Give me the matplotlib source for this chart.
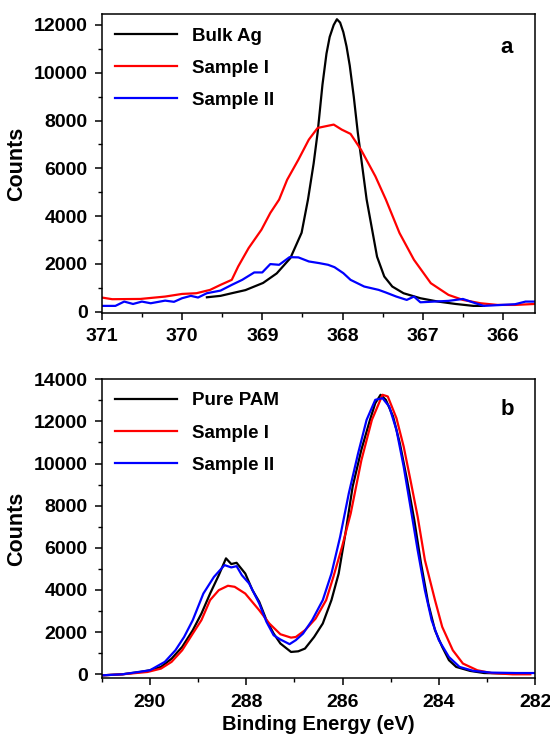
import matplotlib.pyplot as plt
from matplotlib.ticker import MultipleLocator

plt.rcParams['font.family'] = ['Liberation Sans', 'DejaVu Sans']
plt.rcParams['font.weight'] = 'bold'

# ---- panel a: Ag 3d ----
bulk_x = [369.69, 369.52, 369.38, 369.21, 368.99, 368.82, 368.65, 368.51, 368.43,
          368.36, 368.31, 368.25, 368.20, 368.16, 368.11, 368.07, 368.03, 367.99,
          367.95, 367.91, 367.86, 367.81, 367.70, 367.57,
          367.48, 367.38, 367.24, 367.03, 366.81, 366.59, 366.37, 366.24]
bulk_y = [600, 660, 770, 900, 1200, 1600, 2240, 3300, 4700,
          6200, 7500, 9500, 10800, 11500, 12000, 12240, 12100, 11700,
          11100, 10300, 9000, 7500, 4700, 2300,
          1470, 1050, 770, 560, 420, 320, 240, 240]

s1a_x = [371.0, 370.87, 370.52, 370.21, 370.0, 369.82, 369.65, 369.52, 369.38,
         369.30, 369.17, 369.01, 368.90, 368.79, 368.69, 368.55, 368.42, 368.31,
         368.21, 368.11, 368.01, 367.90, 367.77, 367.59, 367.46, 367.29, 367.11,
         366.90, 366.68, 366.50, 366.28, 366.07, 365.85, 365.61]
s1a_y = [590, 520, 530, 630, 740, 770, 910, 1120, 1330,
         1890, 2660, 3430, 4130, 4690, 5520, 6360, 7200, 7690,
         7760, 7830, 7620, 7440, 6780, 5660, 4690, 3290, 2170,
         1190, 700, 490, 350, 280, 280, 320]

s2a_x = [371.0, 370.83, 370.72, 370.61, 370.50, 370.39, 370.21, 370.10, 370.0,
         369.89, 369.80, 369.69, 369.52, 369.38, 369.25, 369.10, 369.0, 368.90,
         368.79, 368.66, 368.55, 368.42, 368.29, 368.18, 368.10, 367.99, 367.90,
         367.73, 367.55, 367.46, 367.33, 367.20, 367.11, 367.03, 366.86, 366.68,
         366.50, 366.37, 366.24, 366.02, 365.85, 365.72, 365.61]
s2a_y = [240, 240, 420, 320, 420, 350, 460, 410, 560,
         660, 590, 770, 880, 1120, 1330, 1640, 1640, 1990,
         1960, 2280, 2270, 2100, 2030, 1960, 1860, 1610, 1330,
         1050, 910, 800, 630, 490, 630, 390, 420, 450,
         530, 380, 240, 280, 310, 420, 420]

# ---- panel b: C 1s ----
pam_x = [291.0, 290.57, 290.2, 290.0, 289.77, 289.55, 289.33, 289.11, 288.93, 288.75,
         288.57, 288.42, 288.31, 288.20, 288.02, 287.87, 287.73, 287.58, 287.43,
         287.29, 287.07, 286.92, 286.78, 286.59, 286.41, 286.23, 286.08, 285.94,
         285.79, 285.61, 285.43, 285.32, 285.21, 285.10, 284.95, 284.81, 284.66,
         284.51, 284.37, 284.22, 284.08, 283.93, 283.79, 283.64, 283.35, 283.06,
         282.47]
pam_y = [-50, 0, 110, 190, 350, 740, 1300, 2090, 2880, 3830,
         4700, 5500, 5230, 5290, 4780, 3990, 3440, 2570, 1930,
         1460, 1060, 1090, 1220, 1770, 2410, 3520, 4780, 6680,
         8900, 10640, 12070, 12860, 13260, 13020, 12230, 10960, 9220,
         7320, 5260, 3360, 2090, 1300, 670, 350, 160, 60,
         30]

s1b_x = [291.0, 290.57, 290.05, 289.77, 289.55, 289.33, 289.11, 288.93, 288.75,
         288.57, 288.38, 288.24, 288.02, 287.73, 287.52, 287.29, 287.07, 286.97,
         286.78, 286.56, 286.34, 286.19, 286.01, 285.83, 285.61, 285.39, 285.17,
         285.06, 284.88, 284.73, 284.59, 284.44, 284.29, 284.08, 283.93, 283.71,
         283.50, 283.20, 282.91, 282.47, 282.10]
s1b_y = [-50, 0, 110, 270, 590, 1140, 1930, 2570, 3520,
         3990, 4200, 4150, 3830, 3040, 2410, 1900, 1740, 1770,
         2090, 2640, 3520, 4620, 6050, 7630, 10140, 12070, 13260,
         13180, 12150, 10800, 9220, 7480, 5420, 3520, 2250, 1140,
         510, 190, 60, 0, 0]

s2b_x = [291.0, 290.57, 290.0, 289.69, 289.47, 289.29, 289.11, 288.89, 288.67,
         288.45, 288.31, 288.20, 288.09, 287.94, 287.73, 287.58, 287.43, 287.29,
         287.10, 286.97, 286.82, 286.63, 286.41, 286.23, 286.05, 285.87, 285.68,
         285.50, 285.32, 285.17, 285.03, 284.88, 284.73, 284.59, 284.44, 284.29,
         284.15, 284.0, 283.79, 283.57, 283.28, 282.91, 282.40, 282.0]
s2b_y = [-50, 0, 190, 590, 1140, 1770, 2570, 3830, 4620,
         5180, 5070, 5130, 4700, 4310, 3360, 2490, 1850, 1650,
         1430, 1620, 1930, 2570, 3520, 4780, 6520, 8580, 10450,
         12070, 13020, 13100, 12700, 11590, 9850, 7950, 5890, 3990,
         2570, 1620, 820, 350, 160, 80, 60, 60]

fig = plt.figure(figsize=(5.5, 7.38), dpi=100)
ax1 = fig.add_axes([0.185, 0.5763, 0.788, 0.4041])
ax2 = fig.add_axes([0.185, 0.0809, 0.788, 0.4053])

lw = 1.6
ax1.plot(bulk_x, bulk_y, color='black', lw=lw, label='Bulk Ag')
ax1.plot(s1a_x, s1a_y, color='#FF0000', lw=lw, label='Sample I')
ax1.plot(s2a_x, s2a_y, color='#0000FF', lw=lw, label='Sample II')
ax1.set_xlim(371, 365.6)
ax1.set_ylim(-45, 12440)
ax1.xaxis.set_major_locator(MultipleLocator(1))
ax1.xaxis.set_minor_locator(MultipleLocator(0.5))
ax1.yaxis.set_major_locator(MultipleLocator(2000))
ax1.yaxis.set_minor_locator(MultipleLocator(1000))
ax1.text(0.935, 0.89, 'a', transform=ax1.transAxes, fontsize=16,
         fontweight='bold', ha='center', va='center')

ax2.plot(pam_x, pam_y, color='black', lw=lw, label='Pure PAM')
ax2.plot(s1b_x, s1b_y, color='#FF0000', lw=lw, label='Sample I')
ax2.plot(s2b_x, s2b_y, color='#0000FF', lw=lw, label='Sample II')
ax2.set_xlim(291, 282)
ax2.set_ylim(-190, 14000)
ax2.xaxis.set_major_locator(MultipleLocator(2))
ax2.xaxis.set_minor_locator(MultipleLocator(1))
ax2.yaxis.set_major_locator(MultipleLocator(2000))
ax2.yaxis.set_minor_locator(MultipleLocator(1000))
ax2.text(0.935, 0.9, 'b', transform=ax2.transAxes, fontsize=16,
         fontweight='bold', ha='center', va='center')
ax2.set_xlabel('Binding Energy (eV)', fontsize=14.5, fontweight='bold', labelpad=3)

for ax in (ax1, ax2):
    ax.set_ylabel('Counts', fontsize=15.5, fontweight='bold', labelpad=5)
    ax.tick_params(which='major', direction='out', length=5, width=1.1,
                   labelsize=14, pad=5)
    ax.tick_params(axis='x', which='major', pad=6)
    ax.tick_params(which='minor', direction='out', length=3, width=1.0)
    for lab in ax.get_xticklabels() + ax.get_yticklabels():
        lab.set_fontweight('bold')
    for sp in ax.spines.values():
        sp.set_linewidth(1.1)
    ax.legend(loc='upper left', frameon=False, fontsize=13.5, handlelength=3.3,
              handletextpad=0.8, labelspacing=0.8, borderaxespad=0.3,
              bbox_to_anchor=(0.0, 1.0))

fig.savefig('out.png', dpi=100)
